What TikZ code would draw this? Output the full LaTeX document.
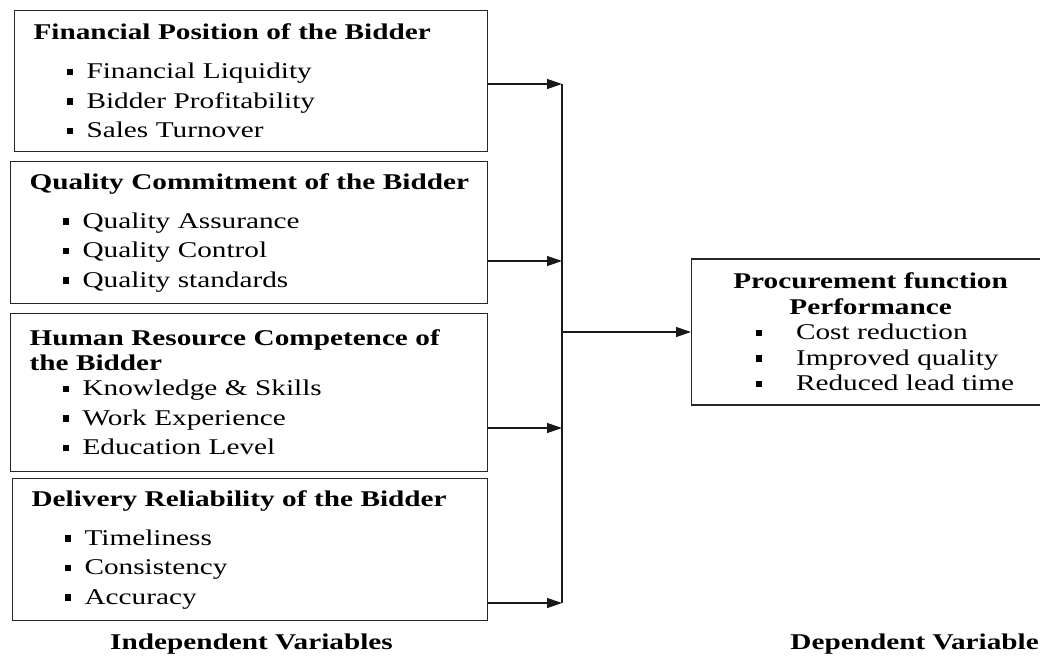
\documentclass[tikz,border=0pt]{standalone}
\usepackage{fontspec}
\setmainfont{Liberation Serif}[FakeStretch=1.3]
\usepackage{tikz}
\usetikzlibrary{arrows.meta,positioning}
\newcommand{\bul}{\raisebox{3.5pt}{\rule{6.5pt}{6.5pt}}}
\newcommand{\litem}[1]{\hspace*{33pt}\bul\hspace{13.5pt}#1}
\newcommand{\ritem}[1]{\makebox[230pt][l]{\bul\hspace{34pt}#1}}
\newcommand{\vtitle}[1]{\mbox{\textbf{#1}}}

\begin{document}
\begin{tikzpicture}[
    x=1pt, y=1pt,
    every node/.style={font=\fontsize{22.5}{29.5}\selectfont},
    varbox/.style={rectangle, draw=black!85, line width=1.2pt, anchor=north west,
      inner xsep=19pt, inner ysep=0pt, align=left},
    varlabel/.style={font=\bfseries\fontsize{22.5}{29.5}\selectfont, anchor=base, inner sep=0pt},
    link/.style={-{Triangle[length=15pt,width=10pt]}, line width=1.3pt, black!90},
    bus/.style={line width=1.3pt, black!90}
  ]
  \useasboundingbox (0,0) rectangle (1040,-656);
  % independent variables
  \node[varbox, minimum width=473pt, minimum height=141pt, text width=435pt] (fin) at (14,-10)
    {\vtitle{Financial Position of the Bidder}\\[9.5pt]
     \litem{Financial Liquidity}\\ \litem{Bidder Profitability}\\ \litem{Sales Turnover}};
  \node[varbox, minimum width=477pt, minimum height=142pt, text width=439pt] (qual) at (10,-161)
    {\vtitle{Quality Commitment of the Bidder}\\[9.5pt]
     \litem{Quality Assurance}\\ \litem{Quality Control}\\ \litem{Quality standards}};
  \node[varbox, minimum width=477pt, minimum height=158pt, text width=439pt] (hrc) at (10,-313)
    {\vtitle{Human Resource Competence of}\\[-4.5pt]\vtitle{the Bidder}\\[-4.5pt]
     \litem{Knowledge \& Skills}\\ \litem{Work Experience}\\ \litem{Education Level}};
  \node[varbox, minimum width=475pt, minimum height=142pt, text width=437pt] (deliv) at (12,-478)
    {\vtitle{Delivery Reliability of the Bidder}\\[9.5pt]
     \litem{Timeliness}\\ \litem{Consistency}\\ \litem{Accuracy}};
  % dependent variable
  \node[varbox, anchor=west, align=center, minimum width=358pt, minimum height=146pt,
    text width=320pt, font=\fontsize{22.5}{25.5}\selectfont] (perf) at (691,-332)
    {\vtitle{Procurement function}\\ \vtitle{Performance}\\
     \ritem{Cost reduction}\\ \ritem{Improved quality}\\ \ritem{Reduced lead time}};
  % connectors
  \coordinate (b1) at (562,-84);
  \coordinate (b2) at (562,-261);
  \coordinate (b3) at (562,-428);
  \coordinate (b4) at (562,-603);
  \foreach \src/\tgt in {fin/b1, qual/b2, hrc/b3, deliv/b4}
    \draw[link] (\src.east |- \tgt) -- (\tgt);
  \draw[bus] (b1) -- (b4);
  \draw[link] (b1 |- perf.west) -- (perf.west);
  % captions
  \node[varlabel] (indep) at (251.5,-649) {Independent Variables};
  \node[varlabel, anchor=base east] (dep) at (1039,-649) {Dependent Variable};
\end{tikzpicture}
\end{document}
